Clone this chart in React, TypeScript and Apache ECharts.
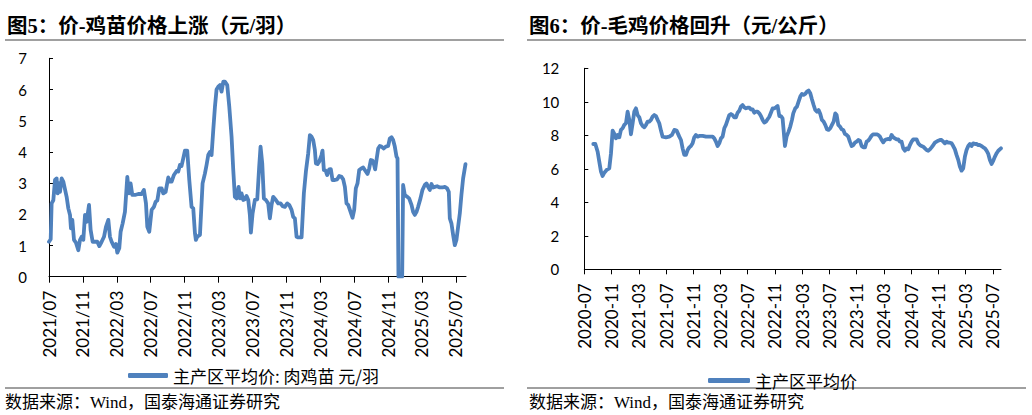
import React, { useEffect, useRef } from "react";
import * as echarts from "echarts";

// ---- Figure 5: chick (肉鸡苗) price, x = months since 2021/07 ----
const seedlingMonths = [
  0, 0.2, 0.31, 0.51, 0.71, 0.9, 1.02, 1.18, 1.3, 1.49,
  1.69, 2.08, 2.28, 2.48, 2.59, 2.75, 2.95, 3.18, 3.46, 3.66,
  3.85, 4.05, 4.25, 4.44, 4.72, 4.91, 5.15, 5.42, 5.7, 5.94,
  6.21, 6.49, 6.72, 7.0, 7.19, 7.39, 7.67, 7.9, 8.06, 8.29,
  8.45, 8.69, 8.96, 9.24, 9.43, 9.63, 9.83, 10.14, 10.53, 10.93,
  11.2, 11.44, 11.6, 11.83, 12.11, 12.38, 12.58, 12.78, 13.01, 13.29,
  13.48, 13.76, 14.07, 14.27, 14.47, 14.74, 15.06, 15.25, 15.45, 15.64,
  15.84, 16.04, 16.31, 16.55, 16.82, 17.02, 17.22, 17.33, 17.49, 17.81,
  18.12, 18.4, 18.59, 18.79, 18.99, 19.18, 19.38, 19.58, 19.77, 19.97,
  20.17, 20.36, 20.56, 20.75, 21.03, 21.27, 21.54, 21.74, 21.93, 22.13,
  22.37, 22.52, 22.72, 22.92, 23.11, 23.31, 23.51, 23.7, 23.82, 24.02,
  24.29, 24.57, 24.8, 24.96, 25.16, 25.35, 25.59, 25.86, 26.06, 26.26,
  26.45, 26.77, 27.04, 27.32, 27.56, 27.83, 28.11, 28.34, 28.62, 28.81,
  29.01, 29.21, 29.4, 29.8, 30.07, 30.31, 30.58, 30.78, 30.97, 31.17,
  31.37, 31.49, 31.68, 31.88, 32.15, 32.27, 32.43, 32.63, 32.82, 33.06,
  33.25, 33.45, 33.73, 34.0, 34.24, 34.51, 34.71, 34.91, 35.1, 35.3,
  35.5, 35.81, 36.01, 36.2, 36.4, 36.6, 36.87, 37.07, 37.38, 37.58,
  37.78, 37.97, 38.17, 38.33, 38.48, 38.64, 38.84, 39.03, 39.23, 39.5,
  39.74, 40.02, 40.21, 40.41, 40.6, 40.8, 41.0, 41.12, 41.23, 41.51,
  41.67, 41.78, 41.98, 42.26, 42.49, 42.77, 42.96, 43.16, 43.36, 43.55,
  43.83, 44.06, 44.34, 44.54, 44.73, 44.93, 45.13, 45.32, 45.52, 45.79,
  46.11, 46.42, 46.7, 46.97, 47.17, 47.29, 47.48, 47.68, 47.88, 48.07,
  48.27, 48.47, 48.66, 48.86, 49.14,
];
const seedlingPrices = [
  1.12, 1.2, 2.35, 2.45, 3.1, 3.15, 2.67, 2.99, 2.72, 3.15,
  3.05, 2.56, 2.19, 1.98, 1.55, 1.82, 1.18, 1.09, 0.85, 1.18,
  1.28, 1.18, 1.98, 1.76, 2.3, 1.5, 1.12, 1.12, 1.12, 0.98,
  1.12, 1.28, 1.6, 1.82, 1.28, 1.12, 0.96, 1.05, 0.77, 0.91,
  1.44, 1.71, 2.08, 3.2, 2.67, 2.99, 2.62, 2.62, 2.65, 2.65,
  2.78, 2.35, 1.6, 1.44, 2.14, 2.24, 2.4, 2.44, 2.83, 2.83,
  2.67, 2.72, 3.18, 3.05, 3.05, 3.26, 3.39, 3.37, 3.58, 3.55,
  3.79, 4.04, 4.04, 3.1, 2.24, 2.19, 1.39, 1.18, 1.28, 1.34,
  2.99, 3.31, 3.58, 3.9, 4.0, 3.9, 4.7, 5.45, 6.0, 6.09,
  6.14, 5.93, 6.25, 6.25, 6.14, 5.45, 4.49, 3.42, 2.56, 2.51,
  2.88, 2.51, 2.67, 2.46, 2.48, 2.59, 2.46, 1.98, 1.41, 2.03,
  2.46, 2.48, 3.53, 4.17, 3.63, 2.51, 2.46, 2.35, 1.87, 2.3,
  2.56, 2.46, 2.35, 2.35, 2.26, 2.24, 2.35, 2.3, 2.14, 1.92,
  1.87, 1.28, 1.26, 1.26, 2.67, 3.37, 3.95, 4.54, 4.49, 4.38,
  4.06, 3.63, 3.61, 3.69, 3.9, 4.04, 3.42, 3.4, 3.26, 3.44,
  3.45, 3.1, 3.1, 3.12, 3.23, 3.2, 3.12, 2.88, 2.35, 2.3,
  2.14, 1.89, 2.14, 2.83, 2.99, 3.42, 3.47, 3.5, 3.37, 3.29,
  3.47, 3.74, 3.72, 3.61, 3.44, 3.74, 4.11, 4.19, 4.17, 4.11,
  4.17, 4.19, 4.43, 4.47, 4.38, 4.17, 3.85, 3.79, 0, 0,
  0, 2.94, 2.62, 2.56, 2.51, 2.3, 2.08, 1.98, 2.08, 2.24,
  2.51, 2.78, 2.94, 2.99, 2.88, 2.78, 2.97, 2.86, 2.88, 2.9,
  2.86, 2.86, 2.88, 2.83, 2.72, 1.87, 1.71, 1.34, 1.01, 1.18,
  1.6, 2.03, 2.62, 3.15, 3.61,
];
const seedlingTicks = [0, 4, 8, 12, 16, 20, 24, 28, 32, 36, 40, 44, 48];

// ---- Figure 6: broiler (毛鸡) price, x = months since 2020-07 ----
const broilerMonths = [
  1.32, 1.62, 1.96, 2.2, 2.45, 2.69, 2.94, 3.28, 3.67, 3.92,
  4.16, 4.41, 4.65, 4.89, 5.14, 5.38, 5.63, 5.87, 6.12, 6.36,
  6.61, 6.85, 7.1, 7.34, 7.59, 7.83, 8.08, 8.32, 8.57, 8.81,
  9.06, 9.3, 9.54, 9.79, 10.03, 10.28, 10.52, 10.77, 11.01, 11.26,
  11.5, 11.99, 12.48, 12.87, 13.22, 13.56, 13.95, 14.2, 14.44, 14.68,
  14.93, 15.17, 15.42, 15.66, 15.91, 16.15, 16.4, 16.64, 16.89, 17.38,
  17.87, 18.36, 18.85, 19.09, 19.33, 19.58, 19.82, 20.07, 20.31, 20.56,
  20.8, 21.05, 21.29, 21.54, 21.78, 22.03, 22.27, 22.52, 22.76, 23.0,
  23.25, 23.49, 23.74, 23.98, 24.23, 24.47, 24.72, 24.96, 25.21, 25.45,
  25.7, 25.94, 26.19, 26.43, 26.68, 26.92, 27.17, 27.41, 27.66, 27.9,
  28.15, 28.39, 28.64, 28.88, 29.12, 29.27, 29.47, 29.71, 30.0, 30.25,
  30.5, 30.69, 30.98, 31.23, 31.47, 31.72, 31.96, 32.21, 32.45, 32.7,
  32.94, 33.19, 33.43, 33.68, 33.92, 34.17, 34.41, 34.66, 34.9, 35.15,
  35.39, 35.64, 35.88, 36.13, 36.37, 36.62, 36.86, 37.06, 37.3, 37.55,
  37.79, 38.04, 38.28, 38.52, 38.77, 39.01, 39.26, 39.5, 39.75, 39.99,
  40.24, 40.48, 40.73, 40.97, 41.22, 41.46, 41.71, 41.95, 42.2, 42.44,
  42.69, 42.93, 43.18, 43.42, 43.67, 43.91, 44.16, 44.4, 44.65, 44.89,
  45.13, 45.38, 45.62, 45.87, 46.11, 46.35, 46.6, 46.84, 47.09, 47.33,
  47.58, 47.82, 48.07, 48.31, 48.56, 48.8, 49.05, 49.29, 49.54, 49.78,
  50.03, 50.27, 50.51, 50.76, 51.0, 51.25, 51.49, 51.74, 51.98, 52.23,
  52.47, 52.72, 52.96, 53.21, 53.45, 53.7, 53.94, 54.18, 54.43, 54.67,
  54.92, 55.16, 55.41, 55.65, 55.9, 56.14, 56.39, 56.63, 56.88, 57.12,
  57.37, 57.61, 57.86, 58.1, 58.35, 58.59, 58.84, 59.08, 59.33, 59.57,
  59.82, 60.07, 60.31, 60.56, 60.8, 61.19,
];
const broilerPrices = [
  7.48, 7.48, 7.02, 6.43, 5.83, 5.57, 5.77, 5.93, 6.03, 6.93,
  8.28, 8.08, 7.82, 8.02, 7.88, 8.32, 8.42, 8.62, 8.72, 9.41,
  8.92, 8.06, 8.72, 9.41, 9.61, 9.21, 9.07, 8.72, 8.56, 8.48,
  8.62, 8.82, 8.82, 8.92, 9.11, 9.21, 9.15, 8.92, 8.72, 8.28,
  7.92, 7.88, 7.92, 8.02, 8.32, 8.28, 7.92, 7.72, 7.22, 6.83,
  6.83, 7.12, 7.28, 7.36, 7.52, 7.88, 8.02, 7.92, 7.96, 7.96,
  7.92, 7.92, 7.92, 7.82, 7.62, 7.36, 7.52, 7.82, 7.92, 8.42,
  8.62, 8.92, 9.21, 9.27, 9.21, 9.07, 9.07, 9.35, 9.47, 9.71,
  9.81, 9.67, 9.61, 9.65, 9.65, 9.55, 9.55, 9.35, 9.41, 9.41,
  9.31, 9.15, 8.92, 8.76, 8.82, 8.96, 9.11, 9.35, 9.61, 9.61,
  9.67, 9.75, 9.15, 9.15, 9.01, 8.32, 7.36, 7.92, 8.22, 8.52,
  8.92, 9.31, 9.61, 9.71, 10.01, 10.31, 10.47, 10.41, 10.47, 10.61,
  10.67, 10.51, 10.15, 9.81, 9.51, 9.41, 9.51, 9.27, 8.92, 8.82,
  8.62, 8.36, 8.32, 8.42, 8.62, 8.82, 9.31, 9.21, 8.62, 8.52,
  8.36, 8.32, 8.08, 8.02, 7.92, 7.62, 7.36, 7.42, 7.56, 7.62,
  7.72, 7.68, 7.36, 7.28, 7.28, 7.62, 7.68, 7.82, 7.98, 8.06,
  8.06, 8.06, 8.02, 7.92, 7.72, 7.58, 7.72, 7.76, 7.78, 7.76,
  8.02, 7.88, 7.82, 7.76, 7.76, 7.62, 7.62, 7.22, 7.08, 7.22,
  7.16, 7.42, 7.62, 7.76, 7.76, 7.76, 7.52, 7.42, 7.36, 7.32,
  7.22, 7.12, 7.08, 7.16, 7.28, 7.42, 7.56, 7.62, 7.68, 7.72,
  7.72, 7.62, 7.52, 7.62, 7.56, 7.56, 7.52, 7.36, 7.16, 6.83,
  6.53, 6.13, 5.89, 6.03, 6.73, 7.12, 7.36, 7.48, 7.36, 7.52,
  7.48, 7.48, 7.42, 7.42, 7.36, 7.28, 7.22, 7.08, 6.89, 6.53,
  6.29, 6.49, 6.73, 6.93, 7.08, 7.22,
];
const broilerTicks = [0, 4, 8, 12, 16, 20, 24, 28, 32, 36, 40, 44, 48, 52, 56, 60];

const seedlingName = "主产区平均价: 肉鸡苗 元/羽";
const broilerName = "主产区平均价";
const titleLeft = "图5：价-鸡苗价格上涨（元/羽）";
const titleRight = "图6：价-毛鸡价格回升（元/公斤）";
const sourceText = "数据来源：Wind，国泰海通证券研究";

const BLUE = "#4F81BD";
const pad = (n: number) => (n < 10 ? "0" + n : "" + n);
const monthLabel = (baseYear: number, baseMonth: number, sep: string) => (v: number) => {
  const idx = Math.round(v);
  if (Math.abs(v - idx) > 1e-6 || idx % 4 !== 0) return "";
  const total = baseMonth - 1 + idx;
  const y = baseYear + Math.floor(total / 12);
  const m = (total % 12) + 1;
  return y + sep + pad(m);
};

export default function App() {
  const ref = useRef<HTMLDivElement>(null);
  useEffect(() => {
    if (!ref.current) return;
    const chart = echarts.init(ref.current, undefined, { renderer: "svg" });
    const xLabel = { fontFamily: "Lato", fontSize: 17, color: "#000", rotate: 90, margin: 14 };
    const yLabelBase = { fontFamily: "Lato", fontSize: 15, color: "#000" };
    const axisLine = { show: true, lineStyle: { color: "#000", width: 1 } };
    const cjk = "'Liberation Serif', 'Noto Sans CJK SC'";
    const lineEl = (x1: number, y1: number, x2: number, y2: number, stroke: string, w: number) => ({
      type: "line",
      shape: { x1, y1, x2, y2 },
      style: { stroke, lineWidth: w },
      silent: true,
    });
    const textEl = (x: number, y: number, text: string, size: number, bold: boolean) => ({
      type: "text",
      x,
      y,
      silent: true,
      style: {
        text,
        fill: "#000",
        fontSize: size,
        fontWeight: bold ? "bold" : "normal",
        fontFamily: cjk,
        align: "left",
        verticalAlign: "middle",
      },
    });
    chart.setOption({
      animation: false,
      backgroundColor: "#fff",
      grid: [
        { left: 49, top: 58.3, width: 417, height: 218.4 },
        { left: 584.3, top: 68.3, width: 416.7, height: 201 },
      ],
      legend: [
        {
          data: [seedlingName],
          left: 123,
          top: 362,
          icon: "roundRect",
          itemWidth: 40,
          itemHeight: 5,
          textStyle: { fontFamily: "Noto Sans CJK SC", fontSize: 17, color: "#000" },
        },
        {
          data: [broilerName],
          left: 703,
          top: 367,
          icon: "roundRect",
          itemWidth: 42,
          itemHeight: 5,
          textStyle: { fontFamily: "Noto Sans CJK SC", fontSize: 17, color: "#000" },
        },
      ],
      xAxis: [
        {
          type: "value",
          gridIndex: 0,
          min: 0,
          max: 49.2,
          interval: 4,
          splitLine: { show: false },
          axisLine,
          axisTick: { show: true, inside: false, length: 6, customValues: seedlingTicks, lineStyle: { color: "#000" } },
          axisLabel: { ...xLabel, customValues: seedlingTicks, formatter: monthLabel(2021, 7, "/") },
        },
        {
          type: "value",
          gridIndex: 1,
          min: 0,
          max: 61.2,
          interval: 4,
          splitLine: { show: false },
          axisLine,
          axisTick: { show: true, inside: false, length: 5, customValues: broilerTicks, lineStyle: { color: "#000" } },
          axisLabel: { ...xLabel, customValues: broilerTicks, formatter: monthLabel(2020, 7, "-") },
        },
      ],
      yAxis: [
        {
          type: "value",
          gridIndex: 0,
          min: 0,
          max: 7,
          interval: 1,
          splitLine: { show: false },
          axisLine,
          axisTick: { show: true, inside: true, length: 4, lineStyle: { color: "#000" } },
          axisLabel: { ...yLabelBase, margin: 22 },
        },
        {
          type: "value",
          gridIndex: 1,
          min: 0,
          max: 12,
          interval: 2,
          splitLine: { show: false },
          axisLine,
          axisTick: { show: true, inside: true, length: 4, lineStyle: { color: "#000" } },
          axisLabel: { ...yLabelBase, margin: 25 },
        },
      ],
      series: [
        {
          name: seedlingName,
          type: "line",
          xAxisIndex: 0,
          yAxisIndex: 0,
          showSymbol: false,
          symbol: "none",
          color: BLUE,
          lineStyle: { color: BLUE, width: 3.8, join: "round", cap: "round" },
          data: seedlingMonths.map((m, i) => [m, seedlingPrices[i]]),
        },
        {
          name: broilerName,
          type: "line",
          xAxisIndex: 1,
          yAxisIndex: 1,
          showSymbol: false,
          symbol: "none",
          color: BLUE,
          lineStyle: { color: BLUE, width: 3.8, join: "round", cap: "round" },
          data: broilerMonths.map((m, i) => [m, broilerPrices[i]]),
        },
      ],
      graphic: [
        textEl(7, 26, titleLeft, 20.5, true),
        textEl(529, 26, titleRight, 20.5, true),
        lineEl(5, 40, 504, 40, "#808080", 1.5),
        lineEl(527, 40, 1026, 40, "#808080", 1.5),
        lineEl(5, 388, 504, 388, "#404040", 1),
        lineEl(527, 388, 1026, 388, "#404040", 1),
        textEl(5, 402, sourceText, 17, false),
        textEl(529, 402, sourceText, 17, false),
      ],
    });
    return () => chart.dispose();
  }, []);
  return (
    <div
      ref={ref}
      style={{ position: "fixed", left: 0, top: 0, width: 1032, height: 415, background: "#fff" }}
    />
  );
}
